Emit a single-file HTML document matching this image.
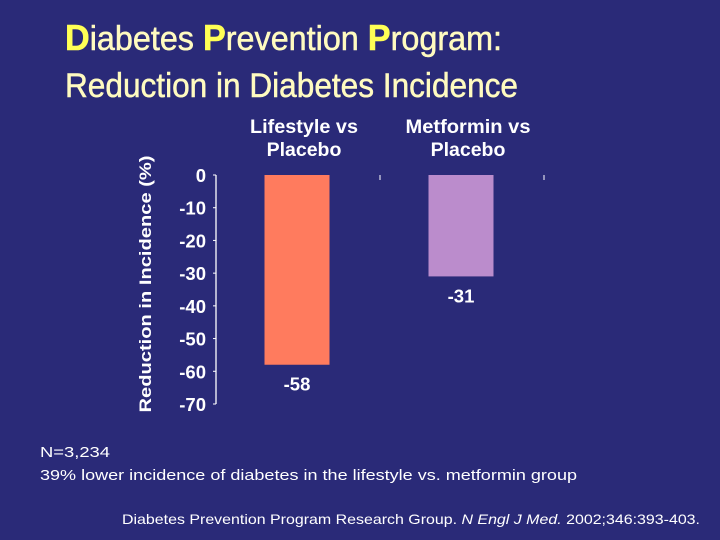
<!DOCTYPE html>
<html><head><meta charset="utf-8"><style>
html,body{margin:0;padding:0;background:#2a2a78;}
svg{display:block;font-family:"Liberation Sans",Arial,sans-serif;}
</style></head><body>
<svg id="chart" width="720" height="540" viewBox="0 0 720 540">
<rect x="0" y="0" width="720" height="540" fill="#2a2a78"/>
<text x="65" y="50" font-size="34" fill="#fffbc0" stroke="#fffbc0" stroke-width="0.5" textLength="437" lengthAdjust="spacingAndGlyphs"><tspan fill="#ffff55" stroke="#ffff55" font-weight="bold" font-size="36">D</tspan>iabetes <tspan fill="#ffff55" stroke="#ffff55" font-weight="bold" font-size="36">P</tspan>revention <tspan fill="#ffff55" stroke="#ffff55" font-weight="bold" font-size="36">P</tspan>rogram:</text>
<text x="65" y="97" font-size="34" fill="#fffbc0" stroke="#fffbc0" stroke-width="0.5" textLength="453" lengthAdjust="spacingAndGlyphs">Reduction in Diabetes Incidence</text>
<text transform="translate(151,284) rotate(-90)" text-anchor="middle" font-size="17" font-weight="bold" fill="#fff" textLength="257" lengthAdjust="spacingAndGlyphs">Reduction in Incidence (%)</text>
<g id="plot"></g>
<text x="40" y="457" font-size="15" fill="#fff" textLength="70" lengthAdjust="spacingAndGlyphs">N=3,234</text>
<text x="40" y="480" font-size="15" fill="#fff" textLength="537" lengthAdjust="spacingAndGlyphs">39% lower incidence of diabetes in the lifestyle vs. metformin group</text>
<text x="122" y="524" font-size="14" fill="#fff" textLength="578" lengthAdjust="spacingAndGlyphs">Diabetes Prevention Program Research Group. <tspan font-style="italic">N Engl J Med.</tspan> 2002;346:393-403.</text>
</svg>
<script>
const categories = ["Lifestyle vs|Placebo", "Metformin vs|Placebo"];
const values = [-58, -31];
const tickValues = [0, -10, -20, -30, -40, -50, -60, -70];
const barColors = ["#ff7b5e", "#bb8ccc"];

const NS = "http://www.w3.org/2000/svg";
const g = document.getElementById("plot");
const y0 = 175, y1 = 404, vMin = -70;
function y(v){ return y0 + (v/vMin)*(y1-y0); }
const axisX = 216, catW = 164, catStart = 216;
function xc(i){ return catStart + catW*(i+0.5) - 1; }
function mk(tag, attrs){ const e=document.createElementNS(NS,tag); for(const k in attrs) e.setAttribute(k,attrs[k]); g.appendChild(e); return e; }

const ax = mk("line",{x1:axisX,x2:axisX,y1:y(0),y2:y(vMin),stroke:"#fff","stroke-width":1.3});


tickValues.forEach(t=>{
  const tk = mk("line",{x1:axisX-3,x2:axisX,y1:y(t),y2:y(t),stroke:"#fff","stroke-width":1});
  
  
  const lb = mk("text",{x:206,y:y(t)+7,"text-anchor":"end","font-size":18.5,"font-weight":"bold",fill:"#fff"});
  
  
  lb.textContent = String(t);
});
categories.forEach((c,i)=>{
  const tk = mk("line",{x1:catStart+catW*(i+1),x2:catStart+catW*(i+1),y1:y(0),y2:y(0)+5,stroke:"#fff","stroke-width":1});
  
  
  const bw = 65;
  const b = mk("rect",{x:xc(i)-bw/2,y:y(0),width:bw,height:y(values[i])-y(0),fill:barColors[i]});
  
  
  const parts = c.split("|");
  parts.forEach((p,j)=>{
    const t = mk("text",{x:xc(i)+7,y:133+j*23,"text-anchor":"middle","font-size":19.5,"font-weight":"bold",fill:"#fff"});
    
    
    t.textContent = p;
    if (j===0) { t.setAttribute("textLength", i===0 ? 108 : 125); t.setAttribute("lengthAdjust","spacingAndGlyphs"); }
  });
  const vl = mk("text",{x:xc(i),y:y(values[i])+26,"text-anchor":"middle","font-size":18.5,"font-weight":"bold",fill:"#fff"});
  
  
  vl.textContent = String(values[i]);
});
</script>
</body></html>
